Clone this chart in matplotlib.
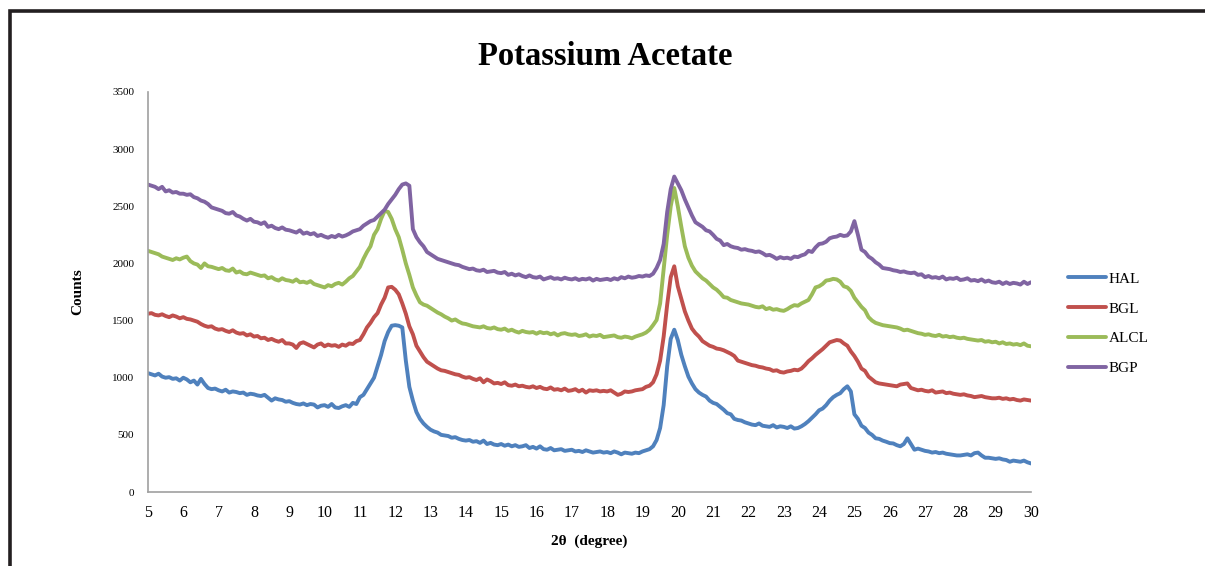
import matplotlib

matplotlib.use('Agg')

import matplotlib.pyplot as plt
import numpy as np
from matplotlib.patches import Rectangle

plt.rcParams['font.family'] = ['Liberation Serif', 'DejaVu Serif']

# 2theta scan, 5..30 deg, step 0.1
two_theta = np.linspace(5, 30, 251)

hal = [
    1040, 1030, 1020, 1035, 1010, 1000, 1005, 990, 995, 975,
    1000, 985, 960, 975, 940, 990, 945, 910, 900, 905,
    890, 880, 895, 870, 880, 875, 865, 870, 850, 860,
    855, 845, 840, 850, 825, 800, 820, 810, 805, 790,
    795, 780, 770, 765, 775, 760, 770, 765, 740, 755,
    760, 745, 770, 740, 735, 750, 760, 745, 780, 770,
    830, 850, 900, 950, 1000, 1100, 1200, 1320, 1400, 1455,
    1460, 1455, 1440, 1150, 920, 800, 700, 640, 600, 570,
    545, 530, 520, 500, 495, 490, 475, 480, 465, 455,
    450, 455, 440, 445, 430, 450, 420, 430, 415, 410,
    420, 405, 415, 400, 410, 395, 400, 410, 385, 395,
    380, 400, 375, 370, 385, 365, 370, 375, 360, 365,
    370, 355, 360, 350, 365, 355, 345, 350, 355, 345,
    350, 340, 355, 345, 330, 345, 340, 335, 345, 340,
    355, 365, 375, 400, 455, 560, 760, 1100, 1340, 1420,
    1330, 1200, 1100, 1010, 950, 900, 870, 850, 835, 800,
    780, 770, 745, 720, 690, 680, 640, 630, 625, 610,
    600, 590, 585, 600, 580, 575, 570, 585, 565, 575,
    570, 560, 575, 555, 560, 575, 595, 620, 650, 680,
    715, 730, 760, 800, 830, 850, 865, 900, 925, 880,
    680, 640, 580, 560, 520, 500, 470, 465, 450, 440,
    428, 425, 410, 400, 420, 470, 420, 370, 380, 370,
    360, 355, 345, 350, 340, 345, 335, 330, 325, 320,
    320, 325, 330, 320, 340, 345, 320, 300, 300, 295,
    290, 295, 285, 280, 265, 275, 270, 265, 275, 260,
    250,
]

bgl = [
    1560, 1565, 1550, 1545, 1555, 1540, 1530, 1545, 1535, 1520,
    1530, 1515, 1510, 1500, 1490, 1470, 1455, 1445, 1450, 1430,
    1420, 1425, 1410, 1400, 1415, 1395, 1385, 1390, 1370, 1380,
    1360, 1365, 1345, 1350, 1330, 1340, 1325, 1315, 1330, 1300,
    1300, 1290, 1260, 1300, 1310, 1295, 1280, 1265, 1290, 1300,
    1275, 1290, 1280, 1285, 1270, 1290, 1280, 1300, 1295, 1320,
    1330, 1380, 1440, 1480, 1530, 1565, 1640, 1700, 1790, 1795,
    1770, 1730, 1650, 1560, 1450, 1380, 1280, 1230, 1180, 1140,
    1120, 1100, 1080, 1065, 1060, 1050, 1040, 1030, 1025, 1010,
    1000, 1005, 990, 980, 995, 960, 985, 970, 950, 955,
    945, 960, 935, 930, 940, 925, 930, 920, 915, 925,
    910, 920, 905, 900, 915, 895, 900, 890, 905, 885,
    890, 900, 880, 895, 870, 890, 885, 890, 880, 885,
    880, 890, 870, 850, 860, 880, 875, 880, 890, 895,
    900, 920, 930, 960, 1030, 1150, 1360, 1640, 1880, 1975,
    1800, 1690, 1580, 1500, 1430, 1390, 1360, 1320, 1300, 1280,
    1270, 1255, 1250, 1240, 1225, 1210, 1190, 1150, 1140, 1130,
    1120, 1110, 1105, 1095, 1090, 1080, 1075, 1060, 1065, 1050,
    1045, 1055, 1060, 1070, 1065, 1080, 1110, 1145, 1170, 1200,
    1225, 1250, 1280, 1310, 1320, 1330, 1325, 1300, 1280, 1230,
    1190, 1140, 1080, 1060, 1010, 985, 960, 950, 945, 940,
    935, 930, 925, 940, 945, 950, 910, 900, 890, 895,
    885, 880, 890, 870, 875, 880, 865, 870, 860, 855,
    850, 855, 845, 840, 830, 835, 840, 830, 825, 820,
    820, 825, 815, 820, 810, 815, 805, 800, 810, 805,
    800,
]

alcl = [
    2110, 2100, 2090, 2080, 2060, 2050, 2040, 2030, 2045, 2035,
    2050, 2060, 2020, 2000, 1990, 1960, 2000, 1975, 1970, 1960,
    1950, 1960, 1940, 1935, 1955, 1920, 1930, 1910, 1905, 1920,
    1910, 1900, 1890, 1895, 1870, 1880, 1860, 1850, 1870, 1855,
    1850, 1840, 1860, 1835, 1840, 1830, 1845, 1820, 1810, 1800,
    1790, 1810, 1800, 1820, 1830, 1815, 1840, 1870, 1890, 1930,
    1970, 2040, 2100, 2150, 2250, 2300, 2390, 2460, 2450, 2390,
    2300, 2230, 2120, 2000, 1900, 1790, 1720, 1660, 1640, 1630,
    1610, 1590, 1570, 1555, 1535, 1520, 1500, 1510, 1490, 1475,
    1470, 1460, 1450, 1445, 1440, 1450, 1435, 1430, 1440, 1425,
    1420, 1430, 1410, 1420, 1405, 1395, 1410, 1400, 1395, 1400,
    1385, 1400, 1390, 1395, 1380, 1390, 1370, 1385, 1390, 1380,
    1375, 1380, 1365, 1370, 1380, 1360, 1370, 1365, 1375, 1355,
    1360, 1365, 1370, 1355, 1350, 1360, 1355, 1345, 1360, 1370,
    1380, 1395, 1420, 1460, 1505, 1650, 1950, 2250, 2500, 2660,
    2500, 2320, 2150, 2050, 1980, 1930, 1900, 1870, 1850, 1820,
    1790, 1770, 1740, 1705, 1700, 1680, 1670, 1660, 1650, 1645,
    1640, 1630, 1620, 1615, 1625, 1600, 1610, 1595, 1600, 1590,
    1585, 1600, 1620, 1635, 1630, 1650, 1665, 1680, 1730, 1790,
    1800, 1820, 1850, 1855, 1865, 1860, 1840, 1800, 1790, 1760,
    1700, 1660, 1620, 1590, 1530, 1500, 1480, 1470, 1460, 1455,
    1450, 1445, 1440, 1430, 1415, 1420, 1410, 1400, 1390, 1385,
    1375, 1380, 1370, 1365, 1375, 1360, 1365, 1355, 1360, 1350,
    1345, 1350, 1340, 1335, 1330, 1325, 1330, 1315, 1320, 1310,
    1315, 1300, 1310, 1295, 1300, 1290, 1295, 1285, 1300, 1280,
    1275,
]

bgp = [
    2690, 2680, 2670, 2650, 2670, 2630, 2640, 2620, 2625, 2610,
    2610, 2600, 2605, 2580, 2570, 2550, 2540, 2520, 2490, 2480,
    2470, 2460, 2440, 2435, 2450, 2420, 2410, 2390, 2375, 2390,
    2365, 2360, 2345, 2360, 2320, 2330, 2310, 2300, 2315, 2295,
    2290, 2280, 2270, 2290, 2260, 2270, 2255, 2265, 2240, 2250,
    2235, 2225, 2240, 2230, 2250, 2235, 2245, 2260, 2280, 2290,
    2300, 2330, 2350, 2370, 2380, 2410, 2440, 2470, 2520, 2560,
    2600, 2650, 2690, 2700, 2680, 2300, 2230, 2185, 2150, 2100,
    2080, 2060, 2040, 2030, 2020, 2010, 2000, 1990, 1985, 1970,
    1960, 1950, 1955, 1940, 1935, 1945, 1925, 1930, 1935, 1920,
    1915, 1925, 1900, 1910, 1895, 1905, 1890, 1880, 1895, 1880,
    1875, 1885, 1860, 1870, 1880, 1865, 1870, 1860, 1875, 1865,
    1860, 1870, 1855, 1865, 1860, 1870, 1850, 1865, 1855, 1860,
    1865, 1855, 1870, 1860, 1880, 1870, 1885, 1875, 1880, 1890,
    1885, 1895, 1890, 1910, 1960, 2030, 2170, 2450, 2650, 2760,
    2700, 2640, 2560, 2490, 2420, 2360, 2340, 2320, 2290, 2280,
    2250, 2215, 2200, 2160, 2170, 2150, 2140, 2135, 2120, 2125,
    2115, 2110, 2100, 2105, 2090, 2070, 2075, 2060, 2040, 2055,
    2045, 2050, 2040, 2060, 2055, 2070, 2080, 2110, 2100, 2140,
    2170, 2175, 2190, 2220, 2230, 2235, 2250, 2240, 2245, 2280,
    2370, 2250, 2120, 2100, 2060, 2040, 2010, 1990, 1960, 1955,
    1950, 1940, 1935, 1925, 1930, 1920, 1915, 1920, 1900, 1905,
    1880, 1890, 1875, 1880, 1870, 1885, 1860, 1870, 1865, 1875,
    1855, 1860, 1870, 1850, 1855, 1845, 1860, 1840, 1850, 1835,
    1830, 1840, 1820, 1835, 1820, 1830, 1825, 1815, 1840, 1820,
    1835,
]

labels = ['HAL', 'BGL', 'ALCL', 'BGP']
colors = ['#4F81BD', '#C0504D', '#9BBB59', '#8064A2']
x_ticks = list(range(5, 31))
y_ticks = list(range(0, 3501, 500))


def main():
    fig = plt.figure(figsize=(12.05, 5.66), dpi=100)
    ax = fig.add_axes([0.1228, 0.1307, 0.7328, 0.7068])

    for y, lab, c in zip([hal, bgl, alcl, bgp], labels, colors):
        ax.plot(two_theta, y, color=c, lw=2.8, label=lab,
                solid_joinstyle='round', solid_capstyle='round')

    ax.set_xlim(5, 30)
    ax.set_ylim(0, 3500)
    ax.set_xticks(x_ticks)
    ax.set_yticks(y_ticks)
    ax.tick_params(axis='x', labelsize=11.5, length=0, pad=9)
    ax.tick_params(axis='y', labelsize=8, length=0, pad=10)
    for s in ['top', 'right']:
        ax.spines[s].set_visible(False)
    for s in ['left', 'bottom']:
        ax.spines[s].set_color('#A0A0A0')
        ax.spines[s].set_linewidth(1.2)

    ax.set_xlabel('2\u03b8  (degree)', fontsize=11, fontweight='bold', labelpad=10)
    ax.set_ylabel('Counts', fontsize=11, fontweight='bold', labelpad=20)

    fig.text(0.502, 0.9, 'Potassium Acetate', ha='center', va='center',
             fontsize=23.5, fontweight='bold')

    ax.legend(loc='upper left', bbox_to_anchor=(1.035, 0.565), frameon=False,
              fontsize=11, handlelength=2.5, handletextpad=0.15,
              labelspacing=1.05, borderaxespad=0)

    # black frame around the chart (cropped on the right and bottom)
    fig.patches.append(Rectangle((10 / 1205, -0.1), 1.2, 1.1 - 11 / 566,
                                 transform=fig.transFigure, fill=False,
                                 edgecolor='#231F20', lw=2.6))

    fig.savefig('out.png', dpi=100)


if __name__ == '__main__':
    main()
